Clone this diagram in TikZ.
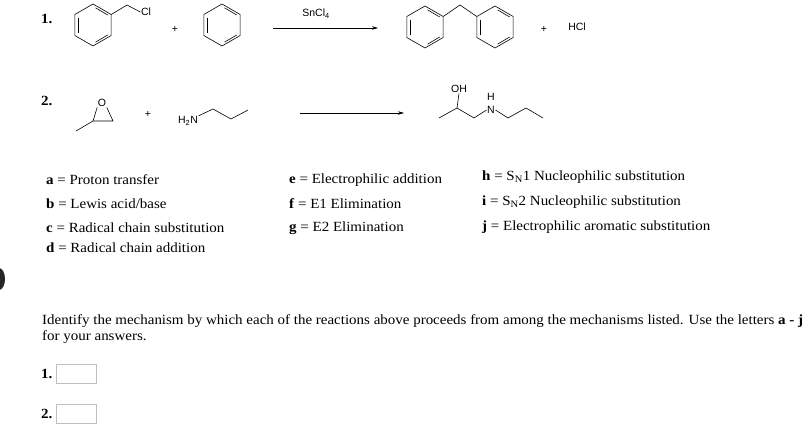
\documentclass[tikz,border=0pt]{standalone}
\usepackage{fontspec}
\setmainfont[FakeStretch=1.07]{Liberation Serif}
\newfontfamily\chemfont{Liberation Sans}
\usetikzlibrary{arrows.meta}
\begin{document}
\begin{tikzpicture}[x=1pt,y=-1pt,
  bond/.style={line width=0.6pt},
  chem/.style={font=\chemfont\fontsize{10.5}{12}\selectfont, inner sep=0.5pt},
  txt/.style={font=\fontsize{14}{16}\selectfont, anchor=west, inner sep=0},
  rarrow/.style={line width=0.6pt, -{Stealth[length=6pt,width=3.5pt]}},
  ansbox/.style={draw=black!25, minimum width=40pt, minimum height=19pt, inner sep=0, anchor=north west}]
\useasboundingbox (0,0) rectangle (809,439);
\fill[white] (0,0) rectangle (809,439);
\newcommand{\benz}[3]{%
  \draw[bond] (#1+0,#2-#3) -- (#1+0.866*#3,#2-0.5*#3) -- (#1+0.866*#3,#2+0.5*#3) -- (#1+0,#2+#3) -- (#1-0.866*#3,#2+0.5*#3) -- (#1-0.866*#3,#2-0.5*#3) -- cycle;
  \draw[bond] (#1-0.866*#3+3.5,#2-0.5*#3+3) -- (#1-0.866*#3+3.5,#2+0.5*#3-3);
  \draw[bond] (#1+0.866*#3-3.5,#2+0.5*#3-0.5) -- (#1+2.5,#2+#3-3.8);
  \draw[bond] (#1+2.5,#2-#3+3.8) -- (#1+0.866*#3-3.5,#2-0.5*#3+0.5);}
% Reaction 1
\node[txt, font=\fontsize{14}{16}\selectfont\bfseries] (n1) at (41,19) {1.};
\benz{93}{25}{21}
\coordinate (b1v) at (111.2,14.5);
\coordinate (b1c) at (127,5);
\node[chem] (cl1) at (146,12) {Cl};
\draw[bond] (b1v) -- (b1c) -- (cl1.west);
\node[chem] (p1) at (175,29) {+};
\benz{222}{25}{21}
\coordinate (a1s) at (273,28);
\coordinate (a1e) at (378,28);
\draw[rarrow] (a1s) -- (a1e);
\node[chem] (sn) at (316,14) {SnCl\textsubscript{4}};
\benz{425}{27}{21}
\benz{495}{27}{21}
\coordinate (pv1) at (443.2,16.5);
\coordinate (pap) at (460,5);
\coordinate (pv2) at (476.8,16.5);
\draw[bond] (pv1) -- (pap) -- (pv2);
\node[chem] (p2) at (544,29) {+};
\node[chem] (hcl) at (577,27) {HCl};
% Reaction 2
\node[txt, font=\fontsize{14}{16}\selectfont\bfseries] (n2) at (41,101) {2.};
\coordinate (em) at (76,131);
\coordinate (ec1) at (93,121);
\coordinate (ec2) at (113,121);
\node[chem] (eo) at (102,103) {O};
\draw[bond] (em) -- (ec1) -- (ec2) -- (eo.south east);
\draw[bond] (ec1) -- (eo.south west);
\node[chem] (p3) at (148,114) {+};
\node[chem] (amn) at (188,121) {H\textsubscript{2}N};
\coordinate (am1) at (213,109);
\coordinate (am2) at (231,119);
\coordinate (am3) at (248,110);
\draw[bond] (amn.north east) -- (am1) -- (am2) -- (am3);
\coordinate (a2s) at (300,113);
\coordinate (a2e) at (404,113);
\draw[rarrow] (a2s) -- (a2e);
\coordinate (q0) at (439,118);
\coordinate (q1) at (457,108);
\node[chem] (oh) at (459,89) {OH};
\coordinate (q2) at (474,118);
\node[chem] (qn) at (491,110) {N};
\node[chem] (qh) at (491,97) {H};
\coordinate (q4) at (508,118);
\coordinate (q5) at (526,108);
\coordinate (q6) at (543,118);
\draw[bond] (q0) -- (q1) -- (q2) -- (qn.west);
\draw[bond] (q1) -- (oh.south);
\draw[bond] (qn.east) -- (q4) -- (q5) -- (q6);
% mechanism list
\node[txt] (ma) at (46,180) {\textbf{a} = Proton transfer};
\node[txt] (mb) at (46,204) {\textbf{b} = Lewis acid/base};
\node[txt] (mc) at (46,228) {\textbf{c} = Radical chain substitution};
\node[txt] (md) at (46,248) {\textbf{d} = Radical chain addition};
\node[txt] (me) at (289,180) {\textbf{e} = Electrophilic addition};
\node[txt] (mf) at (289,204) {\textbf{f} = E1 Elimination};
\node[txt] (mg) at (289,228) {\textbf{g} = E2 Elimination};
\node[txt] (mh) at (482,177) {\textbf{h} = S\textsubscript{N}1 Nucleophilic substitution};
\node[txt] (mi) at (482,202) {\textbf{i} = S\textsubscript{N}2 Nucleophilic substitution};
\node[txt] (mj) at (482,227) {\textbf{j} = Electrophilic aromatic substitution};
% left blob
\fill[black!85] (-1,279) ellipse (6 and 11);
% instructions
\node[txt] (q) at (42,321) {Identify the mechanism by which each of the reactions above proceeds from among the mechanisms listed. Use the letters \textbf{a - j}};
\node[txt] (q2t) at (42,337) {for your answers.};
\node[txt, font=\fontsize{14}{16}\selectfont\bfseries] (l1) at (41,374) {1.};
\node[ansbox] (box1) at (56,364) {};
\node[txt, font=\fontsize{14}{16}\selectfont\bfseries] (l2) at (41,414) {2.};
\node[ansbox] (box2) at (56,404) {};
\end{tikzpicture}
\end{document}
